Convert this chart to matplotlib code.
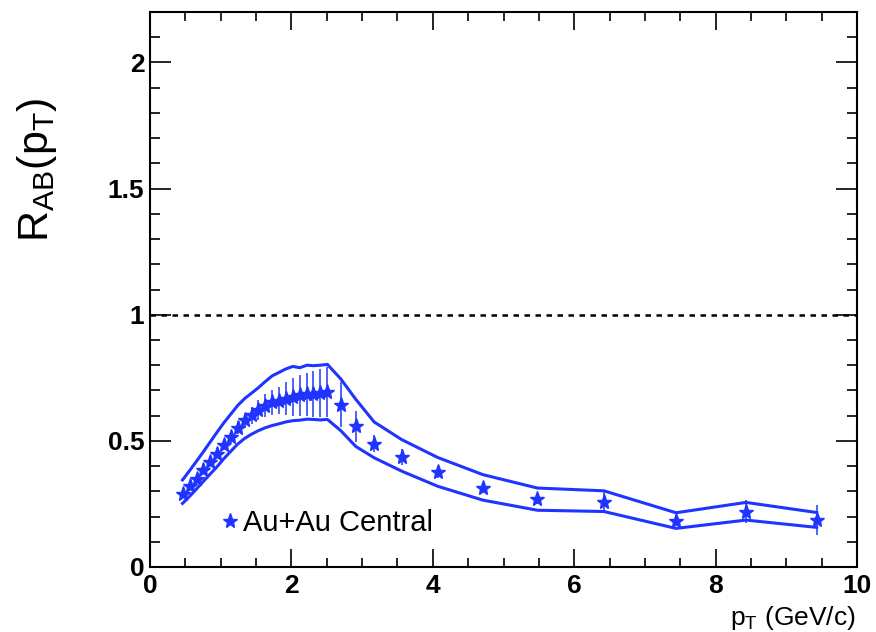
import numpy as np
import matplotlib.pyplot as plt
from matplotlib.ticker import MultipleLocator, FormatStrFormatter

plt.rcParams['font.family'] = ['Liberation Sans', 'DejaVu Sans']
plt.rcParams['mathtext.default'] = 'regular'

# Au+Au central R_AB points (pT in GeV/c)
pt = [0.46, 0.56, 0.66, 0.75, 0.85, 0.95, 1.04, 1.14, 1.24, 1.34, 1.44,
      1.53, 1.63, 1.73, 1.83, 1.92, 2.02, 2.12, 2.22, 2.31, 2.41, 2.51,
      2.70, 2.91, 3.17, 3.56, 4.07, 4.71, 5.48, 6.42, 7.44, 8.43, 9.43]
raa = [0.291, 0.321, 0.350, 0.383, 0.416, 0.449, 0.482, 0.515, 0.552, 0.581, 0.601,
       0.621, 0.640, 0.653, 0.660, 0.667, 0.673, 0.680, 0.684, 0.686, 0.689, 0.693,
       0.644, 0.557, 0.489, 0.436, 0.377, 0.315, 0.271, 0.258, 0.182, 0.219, 0.186]
stat = [0.008, 0.010, 0.012, 0.013, 0.015, 0.017, 0.019, 0.022, 0.026, 0.030, 0.034,
        0.040, 0.046, 0.050, 0.055, 0.065, 0.075, 0.080, 0.085, 0.090, 0.095, 0.100,
        0.090, 0.060, 0.035, 0.030, 0.025, 0.020, 0.020, 0.040, 0.020, 0.045, 0.060]
# systematic band edges
band_hi = [0.345, 0.382, 0.420, 0.455, 0.495, 0.535, 0.570, 0.605, 0.640, 0.668, 0.690,
           0.710, 0.735, 0.758, 0.772, 0.785, 0.795, 0.790, 0.800, 0.798, 0.800, 0.803,
           0.745, 0.665, 0.575, 0.505, 0.434, 0.366, 0.313, 0.302, 0.215, 0.256, 0.216]
band_lo = [0.252, 0.280, 0.310, 0.338, 0.368, 0.398, 0.428, 0.458, 0.487, 0.510, 0.527,
           0.540, 0.552, 0.561, 0.568, 0.575, 0.580, 0.582, 0.586, 0.585, 0.583, 0.585,
           0.540, 0.478, 0.433, 0.380, 0.320, 0.265, 0.225, 0.220, 0.153, 0.186, 0.157]

blue = '#1f35ff'

fig = plt.figure(figsize=(8.76, 6.32), dpi=100)
ax = fig.add_axes([150/876, 65/632, 707/876, 555/632])

ax.axhline(1.0, color='black', ls=(0, (2.2, 2.2)), lw=1.8, zorder=1)

ax.plot(pt, band_hi, color=blue, lw=2.2)
ax.plot(pt, band_lo, color=blue, lw=2.2)
ax.errorbar(pt, raa, yerr=stat, fmt='none', ecolor=blue, elinewidth=1.1, capsize=0)
pts, = ax.plot(pt, raa, '*', color=blue, mec=blue, ms=11, label='Au+Au Central')

ax.set_xlim(0, 10)
ax.set_ylim(0, 2.2)
ax.xaxis.set_major_locator(MultipleLocator(2))
ax.xaxis.set_minor_locator(MultipleLocator(0.5))
ax.yaxis.set_major_locator(MultipleLocator(0.5))
ax.yaxis.set_minor_locator(MultipleLocator(0.1))
ax.yaxis.set_major_formatter(FormatStrFormatter('%g'))

ax.tick_params(which='both', direction='in', top=True, right=True, width=1.2,
               labelsize=19)
ax.tick_params(axis='x', which='major', length=13, pad=5)
ax.tick_params(axis='x', which='minor', length=6.5)
ax.tick_params(axis='y', which='major', length=15, pad=4)
ax.tick_params(axis='y', which='minor', length=7.5)
for lab in ax.get_xticklabels() + ax.get_yticklabels():
    lab.set_fontweight('bold')
for s in ax.spines.values():
    s.set_linewidth(1.5)

fig.text(37/876, 1 - 97/632, r'$R_{AB}(p_{T})$', rotation=90, ha='center', va='top',
         fontsize=31)
fig.text(856/876, 1 - 625/632, r'$p_{T}$ (GeV/c)', ha='right', va='baseline',
         fontsize=19)

ax.legend(handles=[pts], loc='center left', bbox_to_anchor=(0.0967, 0.079),
          frameon=False, borderpad=0, borderaxespad=0, handlelength=0.8,
          handletextpad=0.05, fontsize=21)

fig.savefig('out.png', dpi=100)
